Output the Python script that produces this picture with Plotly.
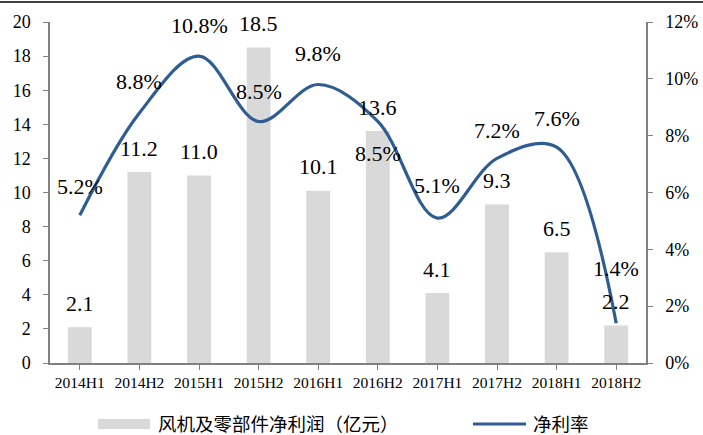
import plotly.graph_objects as go

periods = ["2014H1", "2014H2", "2015H1", "2015H2", "2016H1",
           "2016H2", "2017H1", "2017H2", "2018H1", "2018H2"]
profit = [2.1, 11.2, 11.0, 18.5, 10.1, 13.6, 4.1, 9.3, 6.5, 2.2]      # 亿元
margin = [5.2, 8.8, 10.8, 8.5, 9.8, 8.5, 5.1, 7.2, 7.6, 1.4]          # %

bar_name = "风机及零部件净利润（亿元）"
line_name = "净利率"

serif = "Liberation Serif, Times New Roman, serif"
cjk = "Noto Sans CJK SC, sans-serif"
bar_color = "#d9d9d9"
line_color = "#2f5d92"

# label offsets in px (hand placed in the original chart)
profit_shift = [24] * len(profit)
margin_shift = [29, 31, 31, 30, 31, -32, 33, 28, 29, 55]

L, R, T, B = 50, 57, 22, 72
W, H = 703, 435
pw, ph = W - L - R, H - T - B


def px(x):
    return (x - L) / pw


def py(y):
    return (T + ph - y) / ph


fig = go.Figure()
fig.add_trace(go.Bar(x=periods, y=profit, name=bar_name, showlegend=False,
                     marker=dict(color=bar_color, line_width=0)))
fig.add_trace(go.Scatter(x=periods, y=[m / 100 for m in margin], name=line_name,
                         yaxis="y2", mode="lines", showlegend=False,
                         line=dict(color=line_color, width=3.2, shape="spline", smoothing=1.0)))

ann = []
for p, v, s in zip(periods, profit, profit_shift):
    ann.append(dict(x=p, y=v, yref="y", text=f"{v:.1f}", showarrow=False,
                    yshift=s, font=dict(family=serif, size=22, color="black")))
for p, v, s in zip(periods, margin, margin_shift):
    ann.append(dict(x=p, y=v / 100, yref="y2", text=f"{v:.1f}%", showarrow=False,
                    yshift=s, font=dict(family=serif, size=22, color="black")))

# legend drawn by hand, laid out like the original
ann.append(dict(xref="paper", yref="paper", x=px(156), y=py(423), xanchor="left",
                yanchor="middle", text=bar_name, showarrow=False,
                font=dict(family=cjk, size=18.5, color="black")))
ann.append(dict(xref="paper", yref="paper", x=px(531), y=py(423), xanchor="left",
                yanchor="middle", text=line_name, showarrow=False,
                font=dict(family=cjk, size=18.5, color="black")))

shapes = [
    dict(type="line", xref="paper", yref="paper", x0=px(0), x1=px(W), y0=py(2), y1=py(2),
         line=dict(color="black", width=1.5)),
    dict(type="rect", xref="paper", yref="paper", x0=px(98), x1=px(150), y0=py(419), y1=py(429),
         fillcolor=bar_color, line_width=0),
    dict(type="line", xref="paper", yref="paper", x0=px(473), x1=px(526), y0=py(424), y1=py(424),
         line=dict(color=line_color, width=3.2)),
]

axis_common = dict(showline=True, linecolor="#808080", linewidth=1.5, ticks="outside",
                   ticklen=5, tickcolor="#808080", showgrid=False, automargin=False)

fig.update_layout(
    width=W, height=H,
    margin=dict(l=L, r=R, t=T, b=B, pad=0),
    paper_bgcolor="white", plot_bgcolor="white",
    bargap=0.6,
    showlegend=False,
    font=dict(family=serif, size=16, color="black"),
    annotations=ann,
    shapes=shapes,
    xaxis=dict(type="category", tickfont=dict(family=serif, size=15.5), **axis_common),
    yaxis=dict(range=[0, 20], dtick=2, zeroline=False, ticklabelstandoff=9,
               tickfont=dict(family=serif, size=18), **axis_common),
    yaxis2=dict(range=[0, 0.12], dtick=0.02, tickformat=".0%", overlaying="y", side="right",
                zeroline=False, ticklabelstandoff=9,
                tickfont=dict(family=serif, size=18), **axis_common),
)

# page body has a default 8px margin; drop it so the chart fills the window
fig.write_html("out.html", config={"displayModeBar": False},
               post_script="document.body.style.margin='0';"
                           "document.body.style.overflow='hidden';")
